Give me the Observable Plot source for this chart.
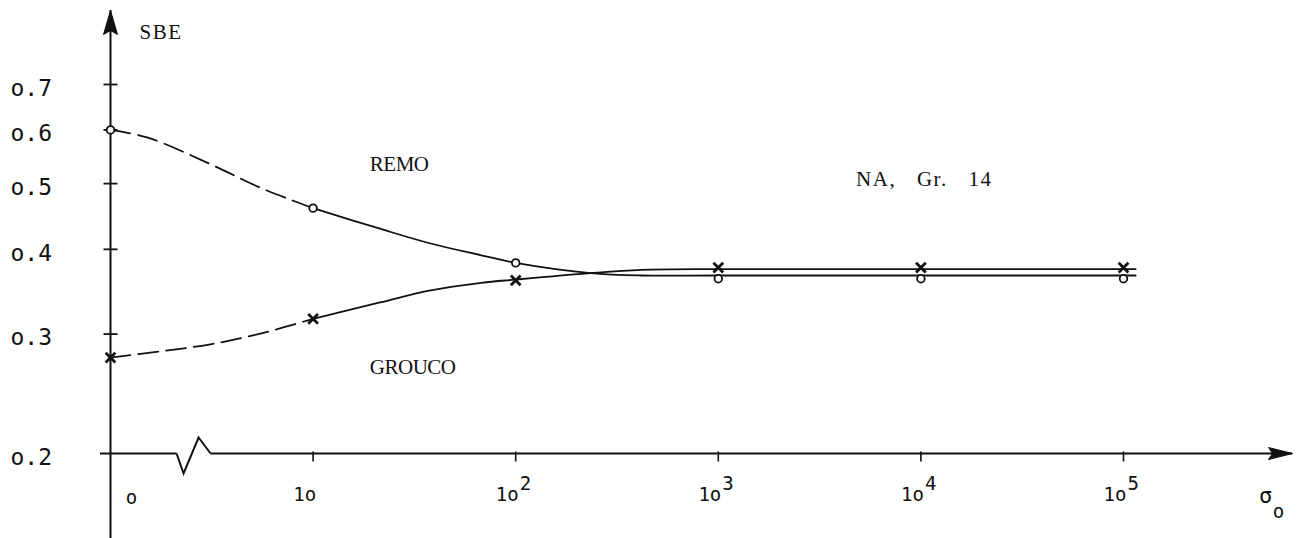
<!DOCTYPE html>
<html><head><meta charset="utf-8">
<script src="https://cdn.jsdelivr.net/npm/d3@7"></script>
<script src="https://cdn.jsdelivr.net/npm/@observablehq/plot@0.6"></script>
<style>
html,body{margin:0;padding:0;background:#fff;}
</style>
</head><body><div id="chart"></div>
<script>
// x positions are decade indices: 0 = "o", 1 = 10, 2 = 10^2, ... 5 = 10^5
const xTicks = [0, 1, 2, 3, 4, 5];
const xTickBase = ["o", "1o", "1o", "1o", "1o", "1o"];
const xTickExp = ["", "", "2", "3", "4", "5"];
const yTicks = [0.2, 0.3, 0.4, 0.5, 0.6, 0.7];
const yTickLabels = ["o.2", "o.3", "o.4", "o.5", "o.6", "o.7"];

// plotted points
const remoX = [0, 1, 2, 3, 4, 5];
const remoY = [0.600, 0.460, 0.382, 0.362, 0.362, 0.362];
const groucoX = [0, 1, 2, 3, 4, 5];
const groucoY = [0.277, 0.316, 0.360, 0.376, 0.376, 0.376];

// drawn curves (dashed part and solid part)
const remoDashX = [0, 0.18, 0.5, 0.74, 1];
const remoDashY = [0.600, 0.585, 0.533, 0.493, 0.460];
const remoSolidX = [1, 1.33, 1.58, 1.83, 2, 2.37, 2.62, 3, 4, 5, 5.06];
const remoSolidY = [0.460, 0.429, 0.408, 0.392, 0.382, 0.369, 0.366, 0.366, 0.366, 0.366, 0.366];
const groucoDashX = [0, 0.25, 0.5, 0.75, 1];
const groucoDashY = [0.277, 0.283, 0.290, 0.301, 0.316];
const groucoSolidX = [1, 1.33, 1.58, 1.83, 2, 2.37, 2.62, 3, 4, 5, 5.06];
const groucoSolidY = [0.316, 0.334, 0.348, 0.357, 0.361, 0.369, 0.373, 0.374, 0.374, 0.374, 0.374];

// annotations
const seriesLabels = ["REMO", "GROUCO"];
const seriesLabelX = [1.28, 1.28];
const seriesLabelY = [0.522, 0.262];
const infoLabel = "NA, Gr. 14";
const infoLabelX = 3.68;
const infoLabelY = 0.496;
const yTitle = "SBE";
const xTitle = "σ";
const xTitleSub = "o";
const breakAt = 0.41; // axis break between "o" and 10

const rows = (xs, ys) => xs.map((x, i) => ({x, y: ys[i]}));
const INK = "#111";
const SERIF = "'Liberation Serif', 'DejaVu Serif', serif";
const SANSMONO = "'DejaVu Sans Mono', monospace";

const hline = {draw(c) { c.moveTo(-7, 0); c.lineTo(7, 0); }};
const vtick = {draw(c) { c.moveTo(0, -2); c.lineTo(0, 8); }};
const arrowUp = {draw(c) { c.moveTo(0, 0); c.lineTo(7, 24); c.lineTo(0, 20); c.lineTo(-7, 24); c.closePath(); }};
const arrowRight = {draw(c) { c.moveTo(0, 0); c.lineTo(-24, -6); c.lineTo(-20, 0); c.lineTo(-24, 6); c.closePath(); }};
const gap = {draw(c) { c.rect(-17, -3, 34, 6); }};
const zigzag = {draw(c) { c.moveTo(-17, 0); c.lineTo(-10, 20); c.lineTo(5, -16); c.lineTo(17, 0); }};

const chart = Plot.plot({
  width: 1312,
  height: 538,
  marginLeft: 100,
  marginRight: 20,
  marginTop: 10,
  marginBottom: 0,
  style: {background: "#fff", color: INK, fontFamily: SANSMONO},
  x: {type: "linear", domain: [0, 5], range: [110, 1123], axis: null},
  y: {type: "log", domain: [0.2, 0.7], range: [453, 84], axis: null},
  marks: [
    // axes
    Plot.ruleY([0.2], {stroke: INK, strokeWidth: 1.8}),
    Plot.ruleX([0], {stroke: INK, strokeWidth: 2}),
    Plot.dot([breakAt], {x: d => d, y: () => 0.2, symbol: gap, r: 1, fill: "#fff", stroke: "none"}),
    Plot.dot([breakAt], {x: d => d, y: () => 0.2, symbol: zigzag, r: 1, fill: "none", stroke: INK, strokeWidth: 2}),
    Plot.dot([0], {x: d => d, frameAnchor: "top", symbol: arrowUp, r: 1, fill: INK, stroke: INK, strokeWidth: 1}),
    Plot.dot([0.2], {y: d => d, frameAnchor: "right", symbol: arrowRight, r: 1, fill: INK, stroke: INK, strokeWidth: 1}),
    Plot.dot(yTicks.slice(1), {x: () => 0, y: d => d, symbol: hline, r: 1, fill: "none", stroke: INK, strokeWidth: 1.8}),
    Plot.dot(xTicks.slice(1), {x: d => d, y: () => 0.2, symbol: vtick, r: 1, fill: "none", stroke: INK, strokeWidth: 1.6}),

    // tick labels
    Plot.text(yTicks, {y: d => d, text: (d, i) => yTickLabels[i], frameAnchor: "left", textAnchor: "start",
      dx: -90, dy: 4, lineAnchor: "middle", fontFamily: SANSMONO, fontSize: 23, fill: INK}),
    Plot.text(xTicks.slice(0, 1), {x: d => d, y: () => 0.2, text: (d, i) => xTickBase[i], textAnchor: "middle",
      dx: 21, dy: 50, lineAnchor: "bottom", fontFamily: SANSMONO, fontSize: 19, fill: INK}),
    Plot.text(xTicks.slice(1), {x: d => d, y: () => 0.2, text: (d, i) => xTickBase[i + 1], textAnchor: "end",
      dx: 3, dy: 47, lineAnchor: "bottom", fontFamily: SANSMONO, fontSize: 19, fill: INK}),
    Plot.text(xTicks.slice(2), {x: d => d, y: () => 0.2, text: (d, i) => xTickExp[i + 2], textAnchor: "start",
      dx: 4, dy: 36, lineAnchor: "bottom", fontFamily: SANSMONO, fontSize: 19, fill: INK}),

    // axis titles
    Plot.text([yTitle], {text: d => d, frameAnchor: "top-left", textAnchor: "start", lineAnchor: "bottom",
      dx: 39, dy: 28, fontFamily: SERIF, fontSize: 21, fill: INK}),
    Plot.text([xTitle], {y: () => 0.2, text: d => d, frameAnchor: "right", textAnchor: "middle", lineAnchor: "bottom",
      dx: -27, dy: 49, fontFamily: SANSMONO, fontSize: 22, fill: INK}),
    Plot.text([xTitleSub], {y: () => 0.2, text: d => d, frameAnchor: "right", textAnchor: "middle", lineAnchor: "bottom",
      dx: -14, dy: 64, fontFamily: SANSMONO, fontSize: 19, fill: INK}),

    // curves
    Plot.line(rows(remoDashX, remoDashY), {x: "x", y: "y", curve: "catmull-rom", stroke: INK, strokeWidth: 1.8, strokeDasharray: "20,8"}),
    Plot.line(rows(remoSolidX, remoSolidY), {x: "x", y: "y", curve: "catmull-rom", stroke: INK, strokeWidth: 1.8}),
    Plot.line(rows(groucoDashX, groucoDashY), {x: "x", y: "y", curve: "catmull-rom", stroke: INK, strokeWidth: 1.8, strokeDasharray: "20,8"}),
    Plot.line(rows(groucoSolidX, groucoSolidY), {x: "x", y: "y", curve: "catmull-rom", stroke: INK, strokeWidth: 1.8}),

    // markers
    Plot.dot(rows(remoX, remoY), {x: "x", y: "y", symbol: "circle", r: 3.8, fill: "#fff", stroke: INK, strokeWidth: 1.8}),
    Plot.dot(rows(groucoX, groucoY), {x: "x", y: "y", symbol: "times", r: 4.5, fill: "none", stroke: INK, strokeWidth: 2.8}),

    // series labels
    Plot.text(seriesLabels, {x: (d, i) => seriesLabelX[i], y: (d, i) => seriesLabelY[i], text: d => d, textAnchor: "start",
      lineAnchor: "bottom", fontFamily: SERIF, fontSize: 21, fill: INK}),
    Plot.text([infoLabel], {x: () => infoLabelX, y: () => infoLabelY, text: d => d, textAnchor: "start",
      lineAnchor: "bottom", fontFamily: SERIF, fontSize: 21, fill: INK})
  ]
});

// typewriter-like spacing for the serif labels
const spacing = new Map([["REMO", ["-0.5px", null]], ["GROUCO", ["-0.5px", null]], ["SBE", ["1.5px", null]], [infoLabel, ["1.5px", "14px"]]]);
d3.select(chart).selectAll("text").each(function () {
  const s = spacing.get(this.textContent);
  if (s) {
    this.setAttribute("letter-spacing", s[0]);
    if (s[1]) this.setAttribute("word-spacing", s[1]);
  }
});
document.getElementById("chart").appendChild(chart);
</script>
</body></html>
